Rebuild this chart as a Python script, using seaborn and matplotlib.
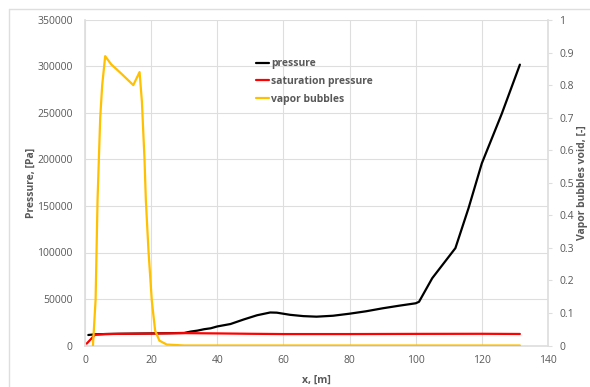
import numpy as np
import pandas as pd
import matplotlib
matplotlib.use("Agg")
import matplotlib.pyplot as plt
import seaborn as sns

# ------------------------------------------------------------------
# data
# ------------------------------------------------------------------
x_pressure = [1, 3, 6, 10, 15, 20, 25, 30, 32, 34, 36, 38, 40, 44, 48, 52, 56, 58,
              62, 66, 70, 75, 80, 85, 90, 95, 100, 101, 105, 112, 116, 120, 126, 131.5]
pressure = [11300, 12000, 12300, 12600, 12800, 13000, 13200, 13500, 15000, 16000,
            17500, 18500, 20500, 23100, 28000, 32500, 35500, 35300, 33000, 31600,
            31000, 32000, 34200, 36800, 40000, 42800, 45400, 47000, 72400, 104700,
            148000, 196000, 249000, 302000]

x_sat = [0.5, 3, 6, 10, 20, 30, 40, 50, 60, 80, 100, 120, 131.5]
sat_pressure = [2000, 11500, 12300, 12500, 12800, 13300, 13000, 12600, 12300,
                12300, 12500, 12600, 12400]

x_vapor = [2.4, 3.2, 3.8, 4.6, 5.2, 6.1, 7.9, 11, 14.6, 16.5, 17.2, 18, 18.4,
           19.2, 20.2, 21.2, 22.5, 24.7, 30, 131.5]
vapor = [0, 0.14, 0.45, 0.70, 0.80, 0.889, 0.864, 0.835, 0.80, 0.84, 0.75, 0.57,
         0.446, 0.29, 0.138, 0.046, 0.015, 0.003, 0, 0]

left_ticks = [0, 50000, 100000, 150000, 200000, 250000, 300000, 350000]
right_ticks = [0, 0.1, 0.2, 0.3, 0.4, 0.5, 0.6, 0.7, 0.8, 0.9, 1]
right_labels = ["0", "0.1", "0.2", "0.3", "0.4", "0.5", "0.6", "0.7", "0.8", "0.9", "1"]
x_ticks = [0, 20, 40, 60, 80, 100, 120, 140]

# ------------------------------------------------------------------
# style
# ------------------------------------------------------------------
sns.set_theme(style="white")
plt.rcParams['font.family'] = ['Open Sans', 'DejaVu Sans']
txt = "#595959"
grid_c = "#dedede"

fig = plt.figure(figsize=(5.9, 3.87), dpi=100)
ax = fig.add_axes([85 / 590, 1 - 345.5 / 387, 463 / 590, 325.5 / 387])

# outer chart-area border (Excel style)
fig.add_artist(plt.Line2D([9 / 590, 1], [1 - 9 / 387, 1 - 9 / 387], color=grid_c, lw=1))
fig.add_artist(plt.Line2D([9 / 590, 9 / 590], [0, 1 - 9 / 387], color=grid_c, lw=1))

df_p = pd.DataFrame({"x": x_pressure, "y": pressure})
df_s = pd.DataFrame({"x": x_sat, "y": sat_pressure})
df_v = pd.DataFrame({"x": x_vapor, "y": vapor})

sns.lineplot(data=df_p, x="x", y="y", ax=ax, color="black", lw=1.6,
             sort=False, estimator=None, label="pressure")
sns.lineplot(data=df_s, x="x", y="y", ax=ax, color="#ff0000", lw=1.6,
             sort=False, estimator=None, label="saturation pressure")

ax2 = ax.twinx()
sns.lineplot(data=df_v, x="x", y="y", ax=ax2, color="#ffc000", lw=1.6,
             sort=False, estimator=None, label="vapor bubbles")

ax.set_xlim(0, 140)
ax.set_ylim(0, 350000)
ax2.set_ylim(0, 1)
ax.set_xticks(x_ticks)
ax.set_yticks(left_ticks)
ax.set_yticklabels([str(t) for t in left_ticks])
ax2.set_yticks(right_ticks)
ax2.set_yticklabels(right_labels)

ax.grid(True, color=grid_c, lw=0.8)
ax.set_axisbelow(True)

for a in (ax, ax2):
    for s in a.spines.values():
        s.set_visible(False)
ax.spines["left"].set_visible(True)
ax.spines["bottom"].set_visible(True)
ax.spines["left"].set_color(grid_c)
ax.spines["bottom"].set_color(grid_c)
ax2.spines["right"].set_visible(True)
ax2.spines["right"].set_color(grid_c)

ax.tick_params(axis="y", colors=txt, labelsize=7.5, length=0, pad=9)
ax.tick_params(axis="x", colors=txt, labelsize=7.5, length=0, pad=7)
ax2.tick_params(axis="y", colors=txt, labelsize=7.5, length=3, width=0.8,
                direction="out", pad=5)
ax2.tick_params(axis="y", color=grid_c)

ax.set_xlabel("x, [m]", color=txt, fontsize=7.5, fontweight="bold", labelpad=6)
ax.set_ylabel("Pressure, [Pa]", color=txt, fontsize=7.5, fontweight="bold", labelpad=0)
ax2.set_ylabel("Vapor bubbles void, [-]", color=txt, fontsize=7.5, fontweight="bold",
               labelpad=2)

# single legend collecting all three series
h1, l1 = ax.get_legend_handles_labels()
h2, l2 = ax2.get_legend_handles_labels()
ax.get_legend().remove()
ax2.get_legend().remove()
leg = ax2.legend(h1 + h2, l1 + l2, loc="upper left", bbox_to_anchor=(0.36, 0.895),
                 frameon=False, fontsize=7.5, handlelength=1.3, handletextpad=0.2,
                 labelspacing=0.65, borderaxespad=0)
for t in leg.get_texts():
    t.set_color(txt)
    t.set_fontweight("bold")

fig.savefig("out.png", dpi=100, facecolor="white")
